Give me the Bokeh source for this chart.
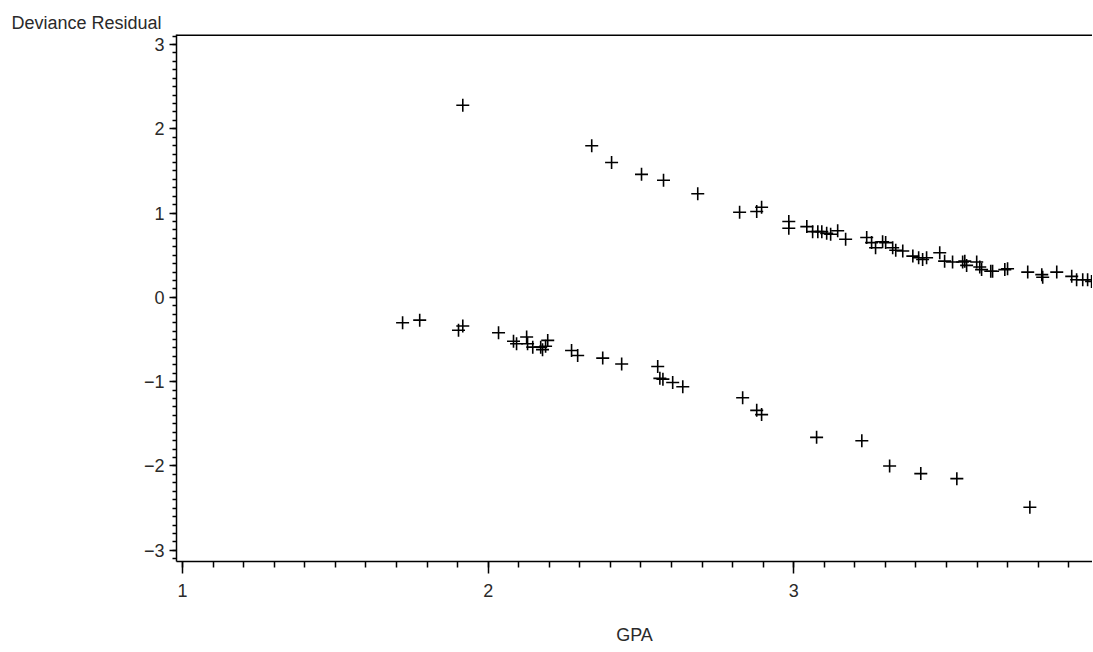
from bokeh.plotting import figure
from bokeh.models import Range1d, SingleIntervalTicker, Span
from bokeh.embed import file_html
from bokeh.resources import INLINE

# Upper branch (observed events)
gpa_upper = [1.917, 2.339, 2.404, 2.502, 2.574, 2.686, 2.823, 2.879, 2.895, 2.984,
             2.984, 3.043, 3.062, 3.079, 3.092, 3.108, 3.121, 3.144, 3.170, 3.239,
             3.255, 3.268, 3.291, 3.301, 3.324, 3.334, 3.357, 3.390, 3.409, 3.422,
             3.435, 3.478, 3.494, 3.520, 3.553, 3.560, 3.566, 3.599, 3.609, 3.615,
             3.645, 3.651, 3.691, 3.700, 3.766, 3.812, 3.815, 3.861, 3.910, 3.926,
             3.946, 3.962, 3.975]
dev_upper = [2.28, 1.80, 1.60, 1.46, 1.39, 1.23, 1.01, 1.02, 1.07, 0.90,
             0.82, 0.84, 0.78, 0.78, 0.78, 0.76, 0.75, 0.79, 0.69, 0.71,
             0.65, 0.59, 0.66, 0.65, 0.59, 0.56, 0.55, 0.49, 0.47, 0.45,
             0.47, 0.53, 0.43, 0.42, 0.42, 0.43, 0.38, 0.42, 0.36, 0.33,
             0.31, 0.31, 0.33, 0.34, 0.30, 0.27, 0.24, 0.30, 0.25, 0.21,
             0.21, 0.21, 0.19]

# Lower branch (non-events)
gpa_lower = [1.720, 1.776, 1.903, 1.917, 2.034, 2.083, 2.093, 2.126, 2.129, 2.146,
             2.172, 2.178, 2.188, 2.195, 2.273, 2.293, 2.375, 2.437, 2.555, 2.562,
             2.572, 2.604, 2.637, 2.833, 2.879, 2.895, 3.075, 3.223, 3.314, 3.416,
             3.534, 3.773]
dev_lower = [-0.30, -0.27, -0.39, -0.34, -0.42, -0.52, -0.55, -0.47, -0.55, -0.59,
             -0.59, -0.62, -0.58, -0.51, -0.63, -0.69, -0.72, -0.79, -0.82, -0.96,
             -0.97, -1.01, -1.06, -1.19, -1.34, -1.39, -1.66, -1.70, -2.00, -2.09,
             -2.15, -2.49]

x_label = "GPA"
y_label = "Deviance Residual"

FONT = "Liberation Sans"
FS = "18px"
TXT = "#2a2a2a"
Y_TOP = 3.119

p = figure(width=1092, height=650, output_backend="svg", toolbar_location=None,
           x_range=Range1d(0.980, 3.978), y_range=Range1d(-3.133, Y_TOP),
           min_border_left=176, min_border_right=0, min_border_top=34,
           min_border_bottom=89)

p.background_fill_color = "white"
p.border_fill_color = "white"
p.outline_line_color = None
p.xgrid.visible = False
p.ygrid.visible = False

# top frame line (the right side of the frame is cut off in the original)
p.add_layout(Span(location=Y_TOP, dimension="width", line_color="black",
                  line_width=3))

p.title.text = y_label
p.title.align = "left"
p.title.offset = -165
p.title.standoff = 4
p.title.text_font = FONT
p.title.text_font_size = FS
p.title.text_font_style = "normal"
p.title.text_color = TXT

p.xaxis.ticker = SingleIntervalTicker(interval=1, num_minor_ticks=10)
p.yaxis.ticker = SingleIntervalTicker(interval=1, num_minor_ticks=10)

for ax in (p.xaxis, p.yaxis):
    ax.axis_line_color = "black"
    ax.axis_line_width = 1.5
    ax.major_tick_line_color = "black"
    ax.major_tick_line_width = 1.5
    ax.minor_tick_line_color = "black"
    ax.minor_tick_line_width = 1.5
    ax.major_tick_in = 0
    ax.minor_tick_in = 0
    ax.major_label_text_font = FONT
    ax.major_label_text_font_size = FS
    ax.major_label_text_color = TXT

p.xaxis.major_tick_out = 12
p.xaxis.minor_tick_out = 6
p.xaxis.major_label_standoff = 10
p.xaxis.axis_label = x_label
p.xaxis.axis_label_text_font = FONT
p.xaxis.axis_label_text_font_size = FS
p.xaxis.axis_label_text_font_style = "normal"
p.xaxis.axis_label_text_color = TXT
p.xaxis.axis_label_standoff = 25

p.yaxis.major_tick_out = 7
p.yaxis.minor_tick_out = 4
p.yaxis.major_label_standoff = 5

p.scatter(gpa_upper, dev_upper, marker="cross", size=13, line_color="black",
          line_width=1.6)
p.scatter(gpa_lower, dev_lower, marker="cross", size=13, line_color="black",
          line_width=1.6)

open("out.html", "w").write(file_html(p, INLINE))
